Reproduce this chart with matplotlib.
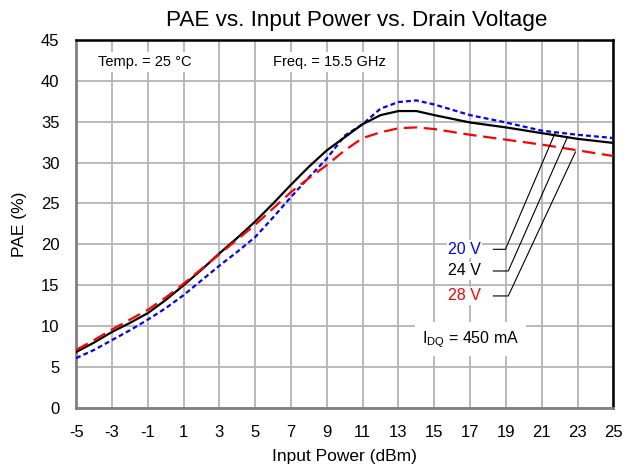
import matplotlib.pyplot as plt

plt.rcParams['font.family'] = ['Liberation Sans', 'DejaVu Sans']
plt.rcParams['axes.unicode_minus'] = False

# input power (dBm)
pin = [-5, -4, -3, -2, -1, 0, 1, 2, 3, 4, 5, 6, 7, 8, 9, 10, 11, 12, 13, 14, 15, 17, 19, 21, 23, 25]
# PAE (%) per drain voltage
pae_20v = [6.1, 7.1, 8.3, 9.5, 10.8, 12.2, 13.8, 15.6, 17.4, 19.1, 20.9, 23.3, 25.8, 28.2, 30.5,
           33.3, 34.7, 36.6, 37.4, 37.6, 37.1, 35.8, 34.9, 33.9, 33.4, 33.0]
pae_24v = [6.85, 8.0, 9.3, 10.4, 11.6, 13.2, 15.0, 16.9, 18.9, 20.8, 22.8, 25.0, 27.3, 29.5, 31.5,
           33.1, 34.7, 35.8, 36.3, 36.3, 35.8, 34.9, 34.3, 33.6, 32.9, 32.4]
pae_28v = [7.1, 8.3, 9.6, 10.8, 12.0, 13.5, 15.2, 17.0, 18.8, 20.6, 22.4, 24.4, 26.4, 28.1, 29.7,
           31.5, 33.0, 33.7, 34.2, 34.3, 34.1, 33.4, 32.8, 32.2, 31.5, 30.8]

xticks = list(range(-5, 26, 2))
yticks = list(range(0, 46, 5))

fig = plt.figure(figsize=(6.24, 4.69), dpi=100)
ax = fig.add_axes([0.122, 0.13, 0.861, 0.785])

ax.plot(pin, pae_20v, color='#0000ff', lw=1.6, ls=(0, (2.2, 1.4)), zorder=3)
ax.plot(pin, pae_24v, color='black', lw=1.6, zorder=3)
ax.plot(pin, pae_28v, color='#ff0000', lw=1.6, ls=(0, (6, 3)), zorder=3)

ax.set_xlim(-5, 25)
ax.set_ylim(0, 45)
ax.set_xticks(xticks)
ax.set_yticks(yticks)
ax.tick_params(length=0, labelsize=12)
ax.tick_params(axis='x', pad=12)
ax.tick_params(axis='y', pad=12)
ax.grid(True, color='#b4b4b4', lw=1.3)
ax.set_axisbelow(True)
for s in ['left', 'bottom']:
    ax.spines[s].set_color('#808080')
    ax.spines[s].set_linewidth(2)
for s in ['top', 'right']:
    ax.spines[s].set_color('black')
    ax.spines[s].set_linewidth(1.8)

ax.set_title('PAE vs. Input Power vs. Drain Voltage', fontsize=16.2, pad=10, x=0.523)
ax.set_xlabel('Input Power (dBm)', fontsize=12.5, labelpad=7)
ax.set_ylabel('PAE (%)', fontsize=12.5, labelpad=10)

box = dict(facecolor='white', edgecolor='none', pad=2)
ax.text(-3.8, 42.3, 'Temp. = 25 °C', fontsize=10.5, va='center', bbox=box)
ax.text(6.0, 42.3, 'Freq. = 15.5 GHz', fontsize=10.5, va='center', bbox=box)

labels = ['20 V', '24 V', '28 V']
colors = ['#0000ff', 'black', '#ff0000']
label_y = [19.4, 16.75, 13.7]
knee_x = [18.97, 19.13, 19.13]
end_x = [21.76, 22.43, 22.88]
end_y = [33.7, 33.1, 31.3]
for lab, c, ly, kx, ex, ey in zip(labels, colors, label_y, knee_x, end_x, end_y):
    ax.text(17.6, ly, lab, color=c, fontsize=11.5, ha='right', va='center',
            bbox=dict(facecolor='white', edgecolor='none', pad=1))
    ax.plot([18.3, kx, ex], [ly, ly, ey], color='black', lw=0.8, zorder=4)

ax.text(17.0, 8.4, r'I$_{\mathregular{DQ}}$ = 450 mA', fontsize=11.5, ha='center', va='center',
        bbox=dict(facecolor='white', edgecolor='none', pad=5))

fig.savefig('out.png', dpi=100)
